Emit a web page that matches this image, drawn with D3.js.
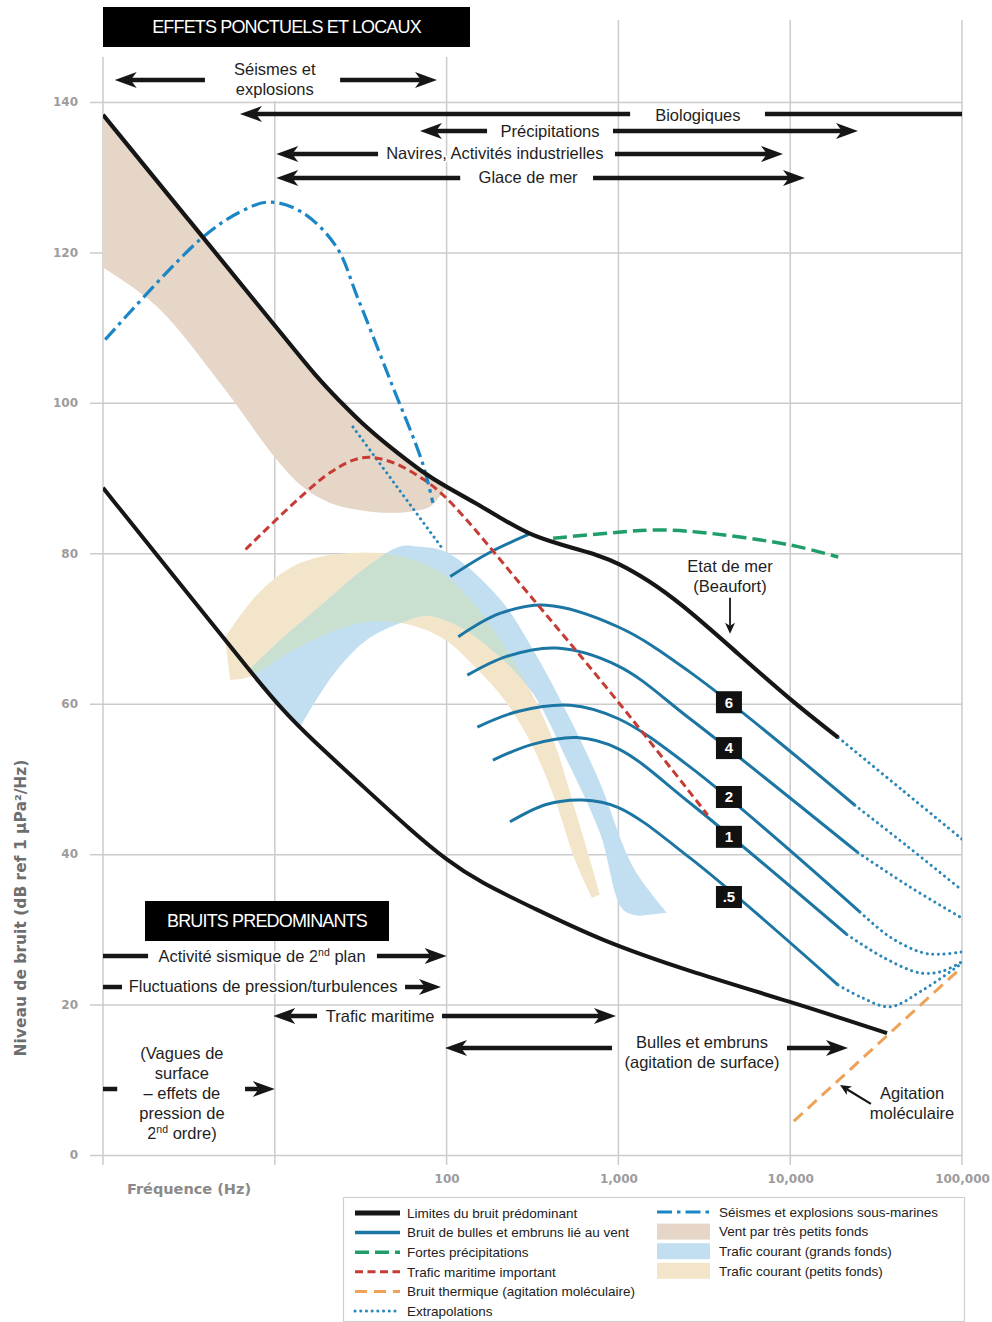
<!DOCTYPE html>
<html>
<head>
<meta charset="utf-8">
<script src="https://cdn.jsdelivr.net/npm/d3@7"></script>
<style>
  body { margin: 0; background: #fff; }
  svg { display: block; font-family: "Liberation Sans", Arial, sans-serif; }
</style>
</head>
<body>
<svg id="chart" width="992" height="1322"></svg>
<script>
// ---------- axes ----------
const FREQ_TICKS = [1, 10, 100, 1000, 10000, 100000];
const DB_TICKS = [0, 20, 40, 60, 80, 100, 120, 140];

// ---------- curves: [frequency Hz, level dB] ----------
const upperLimit = [[1,138.3],[3.16,124.3],[10,110.3],[17.8,103.2],[24,100.2],[31.6,97.4],[46.8,94.1],[72,90.8],[100,88.8],[150,86.6],[220,84.3],[300,82.6],[400,81.6],[560,80.6],[750,79.8],[1000,78.7],[1500,76.4],[2290,73.4],[4470,67.6],[10000,60.5],[19050,55.5]];
const upperLimitExtrap = [[19050,55.5],[45000,48.5],[100000,42.0]];
const lowerLimit = [[1,88.7],[2.82,75.9],[7.94,63.05],[11.2,59.1],[15.8,55.6],[31.6,49.3],[63.1,43.0],[100,39.2],[158,36.2],[316,32.9],[794,28.5],[2512,24.5],[10000,20.4],[36600,16.2]];

const seismic = [[1.03,108.4],[3.67,121.7],[6.3,125.4],[9.3,126.7],[14.5,125.3],[22.9,120.7],[30.2,114.1],[46.8,103.1],[72.4,92.0],[83.2,86.7]];
const heavyShipping = [[6.76,80.5],[20.9,90.7],[32.4,92.7],[46.8,92.2],[72.4,89.9],[100,87.3],[316,74],[1000,60.2],[3311,45.2]];
const heavyRain = [[417,82.0],[1000,82.8],[1622,83.1],[2951,82.8],[10000,81.1],[19050,79.5]];
const shallowExtrap = [[28.5,96.8],[95.5,80.5]];
const thermal = [[10500,4.5],[100000,25]];

// wind-driven bubbles and spray, by sea state
const windTop = [[105,76.9],[178,80.1],[300,82.5]];
const wind6  = [[117,68.9],[204,72.0],[380,73.1],[1000,70.2],[2610,64.2],[23800,46.5]];
const wind4  = [[132,63.8],[224,66.3],[437,67.4],[1000,65.0],[2610,58.0],[24800,40.2]];
const wind2  = [[151,56.9],[263,59.0],[525,59.8],[1000,58.0],[2610,51.6],[25500,32.3]];
const wind1  = [[186,52.5],[316,54.6],[575,55.5],[1000,54.0],[2610,46.8],[21400,29.3]];
const wind05 = [[234,44.3],[380,46.6],[617,47.2],[1000,46.2],[2610,39.5],[19000,22.6]];
const wind6Extrap  = [[23800,46.5],[48400,41.0],[100000,35.2]];
const wind4Extrap  = [[24800,40.2],[50100,35.6],[100000,31.5]];
const wind2Extrap  = [[25500,32.3],[38000,29.0],[58900,26.9],[76000,26.7],[100000,27.0]];
const wind1Extrap  = [[21400,29.3],[34700,26.3],[57000,24.2],[76000,24.4],[100000,25.7]];
const wind05Extrap = [[19000,22.6],[26300,20.9],[38000,19.7],[58900,21.9],[100000,25.5]];

const seaStates = ["6", "4", "2", "1", ".5"];
const seaStateLabelHz = 4400;
const seaStateLabelDb = [60.2, 54.1, 47.6, 42.3, 34.3];

// ---------- shaded bands (top edge, bottom edge) ----------
const windShallowTop = upperLimit.filter(d => d[0] <= 100);
const windShallowBottom = [[1,118.0],[2.06,112.8],[5.0,102.1],[10.3,92.4],[14.6,88.8],[21.0,86.7],[37.2,85.5],[58.9,85.5],[80.1,86.2],[91.5,87.6]];
const deepTrafficTop = [[7.17,64.6],[11.2,68.8],[17.6,72.6],[34.4,78.2],[53.5,80.9],[67.3,80.9],[100.5,80.1],[205,73.9],[318,67.2],[502,58.8],[781,49.5],[1216,38.3],[1919,32.2]];
const deepTrafficBottom = [[14.0,56.9],[21.8,63.8],[34.4,68.5],[53.5,70.7],[76.9,71.7],[120,70.2],[205,66.2],[318,61.4],[502,52.5],[781,42.8],[1064,32.6],[1336,31.8]];
const shallowTrafficTop = [[5.13,68.8],[8.2,74.9],[14.0,78.7],[27.4,80.05],[53.5,79.65],[91.5,77.5],[137,73.9],[205,68.5],[306,61.8],[428,54.5],[559,45.9],[684,39.2],[781,34.6]];
const shallowTrafficBottom = [[5.49,63.2],[7.17,63.6],[12.3,66.9],[21.0,69.5],[35.8,70.9],[61.2,70.5],[97.9,68.5],[146,64.9],[219,60.4],[314,54.5],[428,47.2],[559,39.2],[702,34.2]];

// ---------- source ranges (Hz) ----------
const topRanges = [
  { lines: ["Séismes et", "explosions"], at: 10, row: 80, textY: 69, segs: [[3.92, 1.17, 1], [24, 87.9, 1]] },
  { lines: ["Biologiques"], at: 2900, row: 114, textY: 115, segs: [[1170, 6.27, 1], [7130, 100000, 0]] },
  { lines: ["Précipitations"], at: 400, row: 131, textY: 131, segs: [[172, 70, 1], [930, 24800, 1]] },
  { lines: ["Navires, Activités industrielles"], at: 191, row: 154, textY: 153, segs: [[39.9, 10.2, 1], [955, 9080, 1]] },
  { lines: ["Glace de mer"], at: 298, row: 178, textY: 177, segs: [[120, 10.2, 1], [712, 12190, 1]] }
];
const bottomRanges = [
  { lines: ["Activité sismique de 2^{nd} plan"], at: 8.43, row: 956, textY: 956, segs: [[1, 1.83, 0], [39.3, 100, 1]] },
  { lines: ["Fluctuations de pression/turbulences"], at: 8.54, row: 987, textY: 986, segs: [[1, 1.29, 0], [57.3, 92.7, 1]] },
  { lines: ["Trafic maritime"], at: 41, row: 1016, textY: 1016, segs: [[17.6, 9.8, 1], [94, 968, 1]] },
  { lines: ["Bulles et embruns", "(agitation de surface)"], at: 3067, row: 1048, textY: 1042, segs: [[918, 97.9, 1], [9580, 21700, 1]] },
  { lines: ["(Vagues de", "surface", "– effets de", "pression de", "2^{nd} ordre)"], at: 2.88, row: 1089, textY: 1053, segs: [[1, 1.21, 0], [6.71, 10, 1]] }
];

// ---------- drawing ----------
const INK = "#161616";
const GRID = "#cbcbcb";
const TAN = "#e5d6c8", DEEP = "#c2dff1", SHALLOW = "#f3e5c9", BOTH = "#c9dfcf";
const svg = d3.select("#chart");
const x = d3.scaleLog().domain([1, 100000]).range([103, 962]);
const y = d3.scaleLinear().domain([0, 140]).range([1155, 102]);

const curve = d3.line().x(d => x(d[0])).y(d => y(d[1])).curve(d3.curveCatmullRom.alpha(0.5));
const smoothCurve = d3.line().x(d => x(d[0])).y(d => y(d[1])).curve(d3.curveBasis);
const bandPath = (top, bottom, topGen = curve) => topGen(top) + curve(bottom.slice().reverse()).replace(/^M/, "L") + "Z";

const defs = svg.append("defs");
defs.append("clipPath").attr("id", "plot")
  .append("rect").attr("x", 103).attr("y", 20).attr("width", 859).attr("height", 1135);
defs.append("clipPath").attr("id", "deep-band")
  .append("path").attr("d", bandPath(deepTrafficTop, deepTrafficBottom));

// vertical grid
const gridTop = { 1: 57, 10: 101, 100: 57 };
svg.append("g").selectAll("line").data(FREQ_TICKS).join("line")
  .attr("x1", d => x(d)).attr("x2", d => x(d))
  .attr("y1", d => gridTop[d] !== undefined ? gridTop[d] : 20).attr("y2", 1165)
  .attr("stroke", GRID).attr("stroke-width", 1.5);

// horizontal grid + level labels
const yAxis = svg.append("g").attr("transform", "translate(90,0)")
  .call(d3.axisLeft(y).tickValues(DB_TICKS).tickSize(-(962 - 90)).tickPadding(12));
yAxis.select(".domain").remove();
yAxis.selectAll("line").attr("stroke", GRID).attr("stroke-width", 1.5);
yAxis.selectAll("text").attr("fill", "#9c9c9c")
  .style("font-family", "'DejaVu Sans', sans-serif").style("font-weight", "bold").style("font-size", "12px");

// frequency labels
const xAxis = svg.append("g").attr("transform", "translate(0,1165)")
  .call(d3.axisBottom(x).tickValues(FREQ_TICKS).tickSize(0).tickPadding(9)
    .tickFormat(d => d >= 100 ? d3.format(",")(d) : ""));
xAxis.select(".domain").remove();
xAxis.selectAll("text").attr("fill", "#9c9c9c")
  .style("font-family", "'DejaVu Sans', sans-serif").style("font-weight", "bold").style("font-size", "12px");

// axis titles
svg.append("text").attr("transform", "translate(21,908) rotate(-90)")
  .attr("text-anchor", "middle").attr("dy", "0.35em")
  .style("font-family", "'DejaVu Sans', sans-serif").style("font-weight", "bold").style("font-size", "15.5px")
  .attr("fill", "#6e6e6e").text("Niveau de bruit (dB ref 1 µPa²/Hz)");
svg.append("text").attr("x", 189).attr("y", 1189).attr("text-anchor", "middle").attr("dy", "0.35em")
  .style("font-family", "'DejaVu Sans', sans-serif").style("font-weight", "bold").style("font-size", "14.5px")
  .attr("fill", "#8a8a8a").text("Fréquence (Hz)");

// bands
const bands = svg.append("g").attr("clip-path", "url(#plot)");
bands.append("path").attr("d", bandPath(windShallowTop, windShallowBottom, smoothCurve)).attr("fill", TAN);
bands.append("path").attr("d", bandPath(shallowTrafficTop, shallowTrafficBottom)).attr("fill", SHALLOW);
bands.append("path").attr("d", bandPath(deepTrafficTop, deepTrafficBottom)).attr("fill", DEEP);
bands.append("g").attr("clip-path", "url(#deep-band)")
  .append("path").attr("d", bandPath(shallowTrafficTop, shallowTrafficBottom)).attr("fill", BOTH);

// curves
const curves = svg.append("g").attr("fill", "none").attr("clip-path", "url(#plot)");
const draw = (data, stroke, width, dash, cap, gen = curve) => curves.append("path").attr("d", gen(data))
  .attr("stroke", stroke).attr("stroke-width", width)
  .attr("stroke-dasharray", dash || null).attr("stroke-linecap", cap || "butt");

const WIND = "#1c76a3", DOTS = "#2a87ba";
draw(lowerLimit, INK, 4, null, null, smoothCurve);
[windTop, wind6, wind4, wind2, wind1, wind05].forEach(c => draw(c, WIND, 3));
[wind6Extrap, wind4Extrap, wind2Extrap, wind1Extrap, wind05Extrap, upperLimitExtrap, shallowExtrap]
  .forEach(c => draw(c, DOTS, 3, "0.1,5.6", "round"));
draw(heavyShipping, "#c63c35", 3, "8,4.5");
draw(heavyRain, "#1f9e69", 3.5, "14,6");
draw(seismic, "#1b86c6", 3.2, "15,5,3.5,5");
draw(upperLimit, INK, 4.2, null, null, smoothCurve);
draw(thermal, "#eea257", 3, "12,7");

// sea-state tags
const tags = svg.append("g");
seaStates.forEach((s, i) => {
  const cx = x(seaStateLabelHz), cy = y(seaStateLabelDb[i]);
  tags.append("rect").attr("x", cx - 13).attr("y", cy - 11).attr("width", 26).attr("height", 22).attr("fill", "#111");
  tags.append("text").attr("x", cx).attr("y", cy).attr("dy", "0.36em").attr("text-anchor", "middle")
    .attr("fill", "#fff").style("font-weight", "bold").style("font-size", "15px").text(s);
});

// arrows
const BIG = { len: 22, half: 8, notch: 16 };
const SMALL = { len: 11, half: 5, notch: 8 };
function drawArrow(g, x1, y1, x2, y2, w, head) {
  const dx = x2 - x1, dy = y2 - y1, L = Math.hypot(dx, dy);
  const ux = dx / L, uy = dy / L;
  const ex = head ? x2 - ux * head.notch : x2, ey = head ? y2 - uy * head.notch : y2;
  g.append("line").attr("x1", x1).attr("y1", y1).attr("x2", ex).attr("y2", ey)
    .attr("stroke", INK).attr("stroke-width", w);
  if (head) {
    const bx = x2 - ux * head.len, by = y2 - uy * head.len, nx = -uy, ny = ux;
    const p = [[x2, y2], [bx + nx * head.half, by + ny * head.half], [ex, ey], [bx - nx * head.half, by - ny * head.half]];
    g.append("path").attr("d", "M" + p.map(q => q.join(",")).join("L") + "Z").attr("fill", INK);
  }
}

function richText(g, str, cx, cy, size) {
  const t = g.append("text").attr("x", cx).attr("y", cy).attr("dy", "0.35em").attr("text-anchor", "middle")
    .attr("fill", "#1e1e1e").style("font-size", size + "px")
    .attr("stroke", "#fff").attr("stroke-width", 4).attr("stroke-linejoin", "round").attr("paint-order", "stroke");
  let raised = false;
  str.split(/(\^\{[^}]*\})/).forEach(part => {
    if (!part) return;
    if (part.startsWith("^{")) {
      t.append("tspan").attr("dy", -6).style("font-size", "10.5px").text(part.slice(2, -1));
      raised = true;
    } else {
      const sp = t.append("tspan").text(part);
      if (raised) { sp.attr("dy", 6); raised = false; }
    }
  });
  return t;
}

const ann = svg.append("g");
[...topRanges, ...bottomRanges].forEach(r => {
  r.segs.forEach(([a, b, h]) => drawArrow(ann, x(a), r.row, x(b), r.row, 4.5, h ? BIG : null));
  r.lines.forEach((ln, i) => richText(ann, ln, x(r.at), r.textY + i * 20, 16.5));
});

// sea state pointer
const seaHz = 4464;
["Etat de mer", "(Beaufort)"].forEach((ln, i) => richText(ann, ln, x(seaHz), 566 + i * 20, 16.5));
drawArrow(ann, x(seaHz), y(74.1), x(seaHz), y(69.3), 1.8, SMALL);

// thermal pointer
["Agitation", "moléculaire"].forEach((ln, i) => richText(ann, ln, x(51200), 1093 + i * 20, 16.5));
drawArrow(ann, x(29500), y(6.8), x(19500), y(9.3), 2.2, SMALL);

// title boxes
function titleBox(x0, y0, w, h, label) {
  svg.append("rect").attr("x", x0).attr("y", y0).attr("width", w).attr("height", h).attr("fill", "#000");
  svg.append("text").attr("x", x0 + w / 2).attr("y", y0 + h / 2).attr("dy", "0.36em").attr("text-anchor", "middle")
    .attr("fill", "#fff").style("font-size", "18px").style("letter-spacing", "-0.85px").text(label);
}
titleBox(103, 7, 367, 40, "EFFETS PONCTUELS ET LOCAUX");
titleBox(145, 901, 244, 40, "BRUITS PREDOMINANTS");

// legend
const lg = svg.append("g");
lg.append("rect").attr("x", 343.5).attr("y", 1197.5).attr("width", 621).attr("height", 124)
  .attr("fill", "#fff").attr("stroke", "#cfcfcf").attr("stroke-width", 1.2);
const legendLines = [
  { label: "Limites du bruit prédominant", stroke: INK, w: 5 },
  { label: "Bruit de bulles et embruns lié au vent", stroke: WIND, w: 3.5 },
  { label: "Fortes précipitations", stroke: "#1f9e69", w: 3.5, dash: "14,6" },
  { label: "Trafic maritime important", stroke: "#c63c35", w: 3, dash: "8,4.5" },
  { label: "Bruit thermique (agitation moléculaire)", stroke: "#eea257", w: 3, dash: "12,7" },
  { label: "Extrapolations", stroke: DOTS, w: 3, dash: "0.1,5.6", cap: "round" }
];
const legendFills = [
  { label: "Séismes et explosions sous-marines", stroke: "#1b86c6", w: 3.2, dash: "15,5,3.5,5" },
  { label: "Vent par très petits fonds", fill: TAN },
  { label: "Trafic courant (grands fonds)", fill: DEEP },
  { label: "Trafic courant (petits fonds)", fill: SHALLOW }
];
const legendText = (tx, ty, s) => lg.append("text").attr("x", tx).attr("y", ty).attr("dy", "0.35em")
  .attr("fill", "#222").style("font-size", "13.5px").text(s);
legendLines.forEach((d, i) => {
  const ly = 1213 + i * 19.6;
  lg.append("line").attr("x1", 355).attr("x2", 400).attr("y1", ly).attr("y2", ly)
    .attr("stroke", d.stroke).attr("stroke-width", d.w)
    .attr("stroke-dasharray", d.dash || null).attr("stroke-linecap", d.cap || "butt");
  legendText(407, ly, d.label);
});
legendFills.forEach((d, i) => {
  const ly = 1212 + i * 19.6;
  if (d.fill) {
    lg.append("rect").attr("x", 657).attr("y", ly - 8).attr("width", 53).attr("height", 16).attr("fill", d.fill);
  } else {
    lg.append("line").attr("x1", 657).attr("x2", 710).attr("y1", ly).attr("y2", ly)
      .attr("stroke", d.stroke).attr("stroke-width", d.w).attr("stroke-dasharray", d.dash);
  }
  legendText(719, ly, d.label);
});
</script>
</body>
</html>
